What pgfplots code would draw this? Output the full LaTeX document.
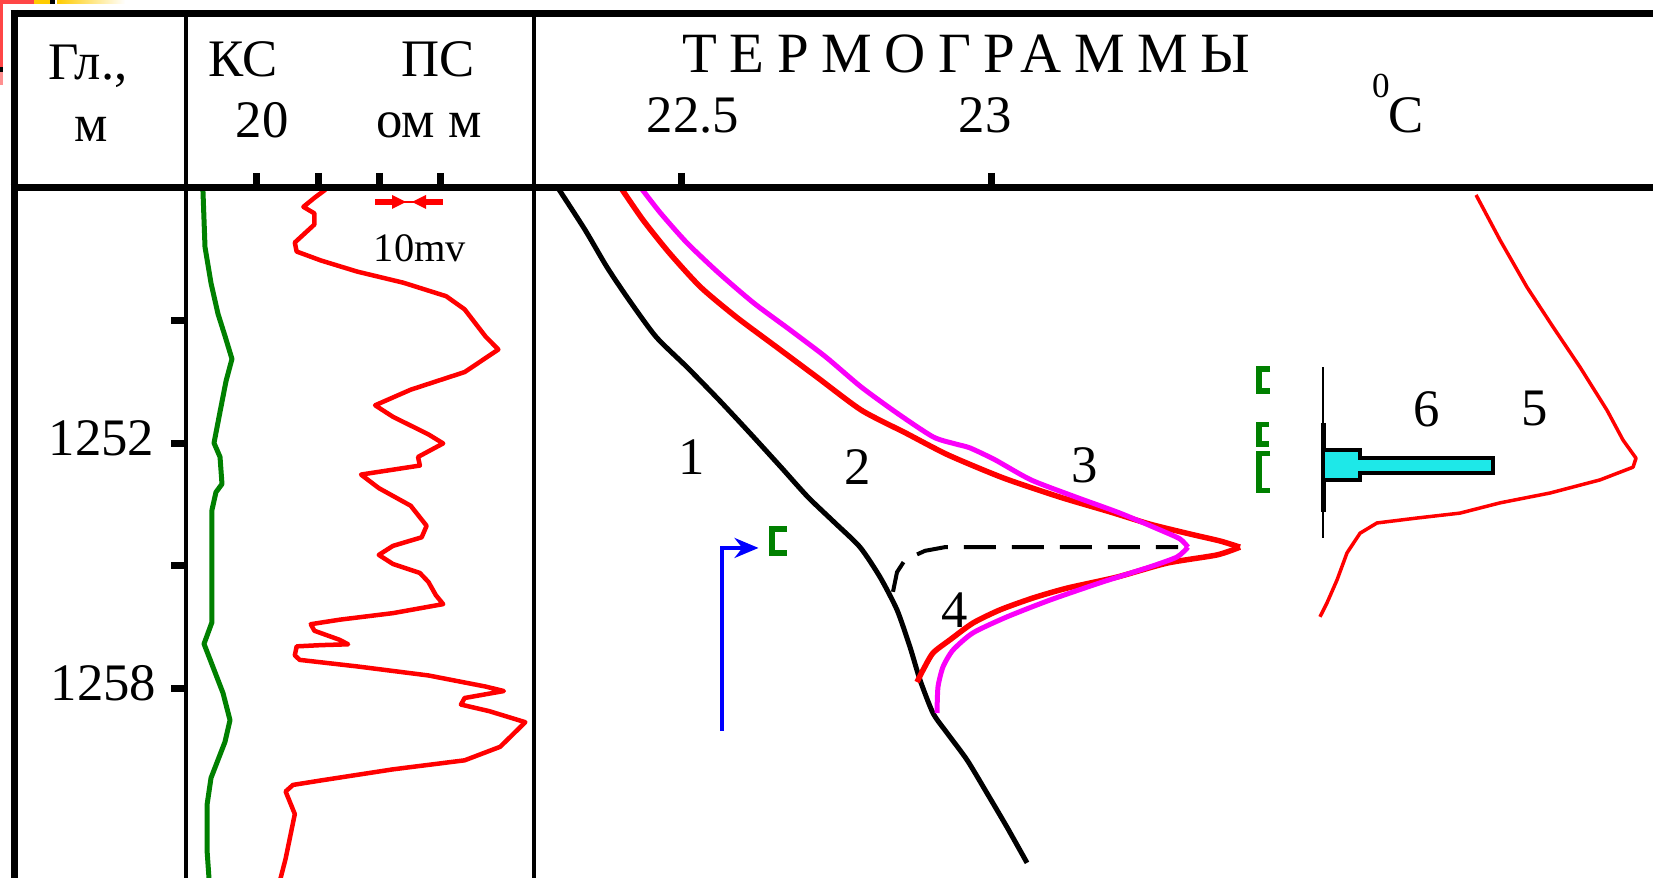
\documentclass[border=0pt]{standalone}
\usepackage{pgfplots}
\pgfplotsset{compat=1.18}
\usepackage{fontspec}
\setmainfont{Liberation Serif}
\newfontfamily\spaced[LetterSpace=22]{Liberation Serif}
\usetikzlibrary{arrows.meta}
\definecolor{kscol}{RGB}{0,128,0}
\definecolor{flowcyan}{RGB}{30,232,232}
\definecolor{pinkred}{RGB}{255,70,70}
\definecolor{tplyellow}{RGB}{255,204,0}
\definecolor{mag}{RGB}{250,0,250}

\pgfplotsset{
  track/.style={
    scale only axis, height=69mm, y dir=reverse,
    ymin=1245.78, ymax=1262.61,
    axis line style={draw=none},
    tick align=outside,
    major tick length=1.5mm,
    tick style={black, line width=0.7mm},
    clip mode=individual,
  }
}

\begin{document}
\begin{tikzpicture}
\useasboundingbox (0,0) rectangle (165.3mm,87.8mm);

% ---------- track 2: resistivity (KS) and SP (PS) ----------
\begin{axis}[track,
  at={(18.6mm,69mm)}, anchor=north west, width=34.8mm,
  xmin=-1.55, xmax=55.22,
  xtick={10,20,30,40}, xticklabels={}, xtick pos=right,
  ytick={1249,1252,1255,1258}, yticklabels={}, ytick pos=left,
]
\addplot[kscol, line width=0.5mm, line join=round] coordinates {
(1.2,1245.78) (1.55,1247.22) (2.53,1248.10) (3.67,1248.85) (4.81,1249.39)
(5.95,1249.95) (4.98,1250.49) (4.00,1251.24) (3.02,1252.00) (4.00,1252.34)
(4.32,1253.00) (3.34,1253.20) (2.69,1253.63) (2.69,1254.83) (2.69,1256.37)
(1.39,1256.90) (2.53,1257.34) (4.49,1258.10) (5.63,1258.76) (4.81,1259.29)
(2.53,1260.17) (1.88,1260.83) (1.88,1261.93) (2.20,1262.61)
};
\addplot[red, line width=0.45mm, line join=round] coordinates {
(21.2,1245.82) (19.4,1246.02) (17.6,1246.24) (19.4,1246.40) (19.4,1246.67)
(16.2,1247.11) (16.5,1247.33) (20.5,1247.55) (26.4,1247.82) (33.9,1248.09)
(40.9,1248.42) (43.9,1248.74) (47.3,1249.40) (49.4,1249.72) (43.9,1250.27)
(35.1,1250.70) (29.3,1251.08) (32.2,1251.36) (38.0,1251.79) (40.4,1252.01)
(36.3,1252.34) (36.6,1252.55) (27.0,1252.77) (29.9,1253.10) (35.1,1253.53)
(37.7,1254.02) (36.9,1254.30) (32.2,1254.51) (29.9,1254.73) (32.2,1254.95)
(36.6,1255.17) (38.0,1255.39) (39.2,1255.71) (40.4,1255.93) (32.2,1256.15)
(23.5,1256.31) (18.8,1256.42) (19.4,1256.58) (23.5,1256.80) (24.9,1256.91)
(20.5,1256.93) (16.5,1256.96) (16.2,1257.18) (17.0,1257.29) (26.4,1257.45)
(38.0,1257.67) (47.3,1257.94) (50.3,1258.05) (43.9,1258.22) (43.3,1258.38)
(47.9,1258.54) (53.8,1258.81) (49.7,1259.41) (43.9,1259.74) (32.2,1259.96)
(20.5,1260.23) (15.9,1260.34) (14.7,1260.50) (15.6,1260.83) (16.2,1261.05)
(14.7,1262.14) (13.8,1262.66)
};
% depth labels
\node[anchor=east, inner sep=0pt, font=\fontsize{15}{18}\selectfont]
  at (axis cs:-1.55,1252) [xshift=-3.1mm, yshift=0.5mm] {1252};
\node[anchor=east, inner sep=0pt, font=\fontsize{15}{18}\selectfont]
  at (axis cs:-1.55,1258) [xshift=-2.9mm, yshift=0.6mm] {1258};
\end{axis}

% ---------- track 3: thermograms ----------
\begin{axis}[track,
  at={(53.4mm,69mm)}, anchor=north west, width=111.9mm,
  xmin=22.2629, xmax=24.0677,
  xtick={22.5,23}, xticklabels={}, xtick pos=right,
  ytick=\empty,
]
% 1: geothermal background
\addplot[black, line width=0.5mm, smooth, tension=0.4] coordinates {
(22.3016,1245.78) (22.3452,1246.80) (22.3806,1247.71) (22.4161,1248.51)
(22.4597,1249.41) (22.5097,1250.15) (22.5613,1250.95) (22.6113,1251.76)
(22.6613,1252.59) (22.7048,1253.32) (22.7484,1253.95) (22.7887,1254.54)
(22.8210,1255.27) (22.8484,1256.07) (22.8694,1256.98) (22.8855,1257.78)
(22.9065,1258.59) (22.9290,1259.07) (22.9613,1259.73) (22.9935,1260.54)
(23.0258,1261.37) (23.0581,1262.24)
};
% 2: thermogram, above and below the peak
\addplot[red, line width=0.55mm, smooth, tension=0.4] coordinates {
(22.4032,1245.78) (22.4387,1246.56) (22.4815,1247.37) (22.5318,1248.20)
(22.5894,1248.93) (22.6542,1249.66) (22.7190,1250.39) (22.7910,1251.20)
(22.8629,1251.76) (22.9306,1252.29) (23.0194,1252.85) (23.1113,1253.32)
(23.1919,1253.68) (23.2565,1253.98) (23.3210,1254.22) (23.3694,1254.39)
(23.4016,1254.54)
};
\addplot[red, line width=0.55mm, smooth, tension=0.4] coordinates {
(23.4016,1254.54) (23.3645,1254.73) (23.2839,1254.93) (23.2032,1255.27)
(23.1226,1255.54) (23.0677,1255.78) (23.0145,1256.07) (22.9710,1256.39)
(22.9339,1256.80) (22.9065,1257.12) (22.8903,1257.54) (22.8806,1257.83)
};
% 3: thermogram, above and below the peak
\addplot[mag, line width=0.5mm, smooth, tension=0.4] coordinates {
(22.4355,1245.78) (22.4669,1246.39) (22.5097,1247.12) (22.5606,1247.85)
(22.6177,1248.59) (22.6758,1249.24) (22.7334,1249.90) (22.7903,1250.63)
(22.8484,1251.27) (22.9065,1251.85) (22.9419,1252.02) (22.9661,1252.12)
(23.0065,1252.41) (23.0645,1252.90) (23.1371,1253.32) (23.2081,1253.71)
(23.2726,1254.12) (23.3048,1254.34) (23.3177,1254.54)
};
\addplot[mag, line width=0.5mm, smooth, tension=0.4] coordinates {
(23.3177,1254.54) (23.3000,1254.78)
(23.2565,1255.02) (23.1758,1255.41) (23.0952,1255.83) (23.0258,1256.24)
(22.9710,1256.63) (22.9387,1257.05) (22.9226,1257.46) (22.9145,1257.95)
(22.9129,1258.59)
};
% 4: extrapolated level
\addplot[black, line width=0.4mm, dash pattern=on 3.2mm off 1.6mm] coordinates {
(22.8419,1255.63) (22.8484,1255.15) (22.8613,1254.85) (22.8935,1254.63)
(22.9258,1254.54) (23.3016,1254.54)
};
% 5: thermogram
\addplot[red, line width=0.35mm, line join=round] coordinates {
(23.7823,1245.95) (23.8210,1247.05) (23.8645,1248.20) (23.9065,1249.17)
(23.9500,1250.15) (23.9935,1251.20) (24.0194,1251.93) (24.0403,1252.37)
(24.0355,1252.59) (23.9823,1252.90) (23.9016,1253.22) (23.8210,1253.46)
(23.7565,1253.71) (23.6871,1253.83) (23.6226,1253.95) (23.5952,1254.20)
(23.5742,1254.68) (23.5581,1255.34) (23.5419,1255.90) (23.5306,1256.24)
};
% 6: inflow profile
\addplot[black, line width=0.25mm] coordinates {(23.5355,1250.15) (23.5355,1254.32)};
\addplot[black, line width=0.5mm] coordinates {(23.5355,1251.51) (23.5355,1253.68)};
\addplot[fill=flowcyan, draw=black, line width=0.4mm] coordinates {
(23.5355,1252.17) (23.5952,1252.17) (23.5952,1252.37) (23.8097,1252.37)
(23.8097,1252.73) (23.5952,1252.73) (23.5952,1252.90) (23.5355,1252.90)
} -- cycle;
% perforation intervals
\addplot[kscol, line width=0.55mm] coordinates {(23.4500,1250.20) (23.4322,1250.20) (23.4322,1250.73) (23.4500,1250.73)};
\addplot[kscol, line width=0.55mm] coordinates {(23.4480,1251.55) (23.4322,1251.55) (23.4322,1252.02) (23.4480,1252.02)};
\addplot[kscol, line width=0.55mm] coordinates {(23.4500,1252.26) (23.4322,1252.26) (23.4322,1253.16) (23.4500,1253.16)};
\addplot[kscol, line width=0.6mm] coordinates {(22.6710,1254.09) (22.6468,1254.09) (22.6468,1254.69) (22.6710,1254.69)};
% sensor position
\addplot[blue, line width=0.35mm, -{Stealth[length=2.4mm,width=2mm]}] coordinates {
(22.5661,1259.02) (22.5661,1254.56) (22.6250,1254.56)
};
% curve numbers
\begin{scope}[every node/.style={inner sep=0pt, font=\fontsize{15}{18}\selectfont}]
\node at (axis cs:22.5177,1252.34) {1};
\node at (axis cs:22.7855,1252.59) {2};
\node at (axis cs:23.1516,1252.54) {3};
\node at (axis cs:22.9419,1256.07) {4};
\node at (axis cs:23.8774,1251.17) {5};
\node at (axis cs:23.7032,1251.17) {6};
\end{scope}
\end{axis}

% ---------- frame and header ----------
\begin{scope}[shift={(0,87.8mm)}, x=0.1mm, y=-0.1mm]
% slide template corner
\fill[pinkred] (0,0) rectangle (34,4);
\fill[tplyellow] (34,0) rectangle (50,4);
\fill[black] (50,0) rectangle (55,4);
\shade[left color=tplyellow, right color=white] (57,0) rectangle (125,4);
\fill[pinkred] (0,0) rectangle (3,67);
\fill[black] (0,67) rectangle (3,72);
\fill[pinkred!60] (0,72) rectangle (3,85);
% grid of the log
\draw[line width=0.7mm] (10.5,13.5) -- (1653,13.5);
\draw[line width=0.7mm] (10.5,188) -- (1653,188);
\draw[line width=0.7mm] (14,10) -- (14,878);
\draw[line width=0.4mm] (186,13.5) -- (186,878);
\draw[line width=0.4mm] (534,13.5) -- (534,878);
% header text
\begin{scope}[every node/.style={inner sep=0pt, anchor=base, font=\fontsize{15}{18}\selectfont}]
\node at (88,80) {Гл.,};
\node at (91,142) {м};
\node at (243,77) {КС};
\node at (438,77) {ПС};
\node at (262,138) {20};
\node at (429,138) {ом м};
\node at (693,133) {22.5};
\node at (985,133) {23};
\node at (1406,133) {C};
\node[font=\fontsize{10}{12}\selectfont] at (1381,98) {0};
\node[anchor=base west, font=\fontsize{16.2}{19}\spaced] at (682,73) {ТЕРМОГРАММЫ};
\node[font=\fontsize{11.5}{14}\selectfont] at (420,262) {10mv};
\end{scope}
% SP scale bar
\draw[red, line width=0.6mm] (375,202) -- (394,202);
\draw[red, line width=0.6mm] (424,202) -- (443,202);
\draw[red, line width=0.25mm] (400,202) -- (418,202);
\fill[red] (392,195) -- (406,202) -- (392,209) -- cycle;
\fill[red] (426,195) -- (412,202) -- (426,209) -- cycle;
\end{scope}
\end{tikzpicture}
\end{document}
